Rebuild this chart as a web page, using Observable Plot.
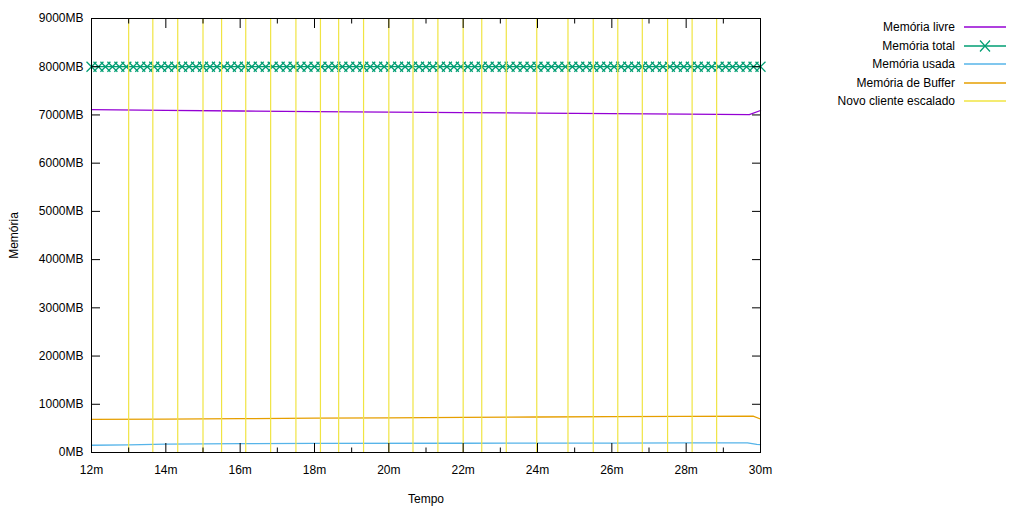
<!DOCTYPE html>
<html><head><meta charset="utf-8">
<script src="https://cdn.jsdelivr.net/npm/d3@7"></script>
<script src="https://cdn.jsdelivr.net/npm/@observablehq/plot@0.6"></script>
<style>
body{margin:0;background:#fff;}
#wrap{position:relative;width:1024px;height:512px;font-family:"Liberation Sans",Arial,sans-serif;font-size:12px;color:#000;}
.row{position:absolute;left:600px;width:1024px;height:18px;}
.row span{position:absolute;right:calc(1024px - 955px + 600px);top:0;line-height:18px;white-space:nowrap;}
.row svg{position:absolute;left:364px;top:0;}
</style></head><body><div id="wrap"></div>
<script>
// Data
const seriesNames = ["Memória livre","Memória total","Memória usada","Memória de Buffer","Novo cliente escalado"];
const seriesColors = ["#9400d3","#009e73","#56b4e9","#e69f00","#f0e442"];

const tLivre = [12, 14, 16, 18, 20, 22, 24, 26, 28, 29.7, 30];
const livre  = [7110, 7095, 7082, 7068, 7058, 7048, 7038, 7028, 7015, 7005, 7092];

const tUsada = [12, 13, 14, 16, 18, 22, 26, 28, 29.65, 29.9, 30];
const usada  = [150, 158, 172, 184, 189, 192, 195, 199, 200, 168, 162];

const tBuffer = [12, 14, 16, 18, 20, 22, 24, 26, 28, 29.8, 30];
const buffer  = [685, 693, 702, 711, 719, 728, 736, 743, 751, 756, 695];

const totalValue = 8000;
const totalSamples = 97;

const escalado = [13.0, 13.65, 14.32, 15.0, 15.5, 16.15, 16.82, 17.5, 18.16, 18.65, 19.32, 20.0, 20.65, 21.32, 22.0, 22.5, 23.16, 23.98, 24.82, 25.5, 26.16, 26.82, 27.5, 28.16, 28.82];

const yTicks = [0,1000,2000,3000,4000,5000,6000,7000,8000,9000];
const xMajor = [12,14,16,18,20,22,24,26,28,30];
const xMinor = [13,15,17,19,21,23,25,27,29];

const livreData = tLivre.map((t,i)=>({t, v: livre[i]}));
const usadaData = tUsada.map((t,i)=>({t, v: usada[i]}));
const bufferData = tBuffer.map((t,i)=>({t, v: buffer[i]}));
const totalData = d3.range(totalSamples).map(i=>({t: 12 + i*18/(totalSamples-1), v: totalValue}));

const plot = Plot.plot({
  width:1024, height:512,
  marginLeft:91, marginRight:264, marginTop:18, marginBottom:60,
  style:{fontFamily:"Liberation Sans, Arial, sans-serif", fontSize:"12px", color:"#000", background:"#fff", overflow:"visible"},
  x:{domain:[12,30]},
  y:{domain:[0,9000]},
  marks:[
    Plot.lineY(livreData, {x:"t", y:"v", stroke:seriesColors[0], strokeWidth:1.3}),
    Plot.lineY(totalData, {x:"t", y:"v", stroke:seriesColors[1], strokeWidth:1.3}),
    Plot.dot(totalData, {x:"t", y:"v", stroke:seriesColors[1], symbol:"times", r:4.6, strokeWidth:1.25}),
    Plot.lineY(usadaData, {x:"t", y:"v", stroke:seriesColors[2], strokeWidth:1.3}),
    Plot.lineY(bufferData, {x:"t", y:"v", stroke:seriesColors[3], strokeWidth:1.3}),
    Plot.ruleX(escalado, {stroke:seriesColors[4], strokeWidth:1.2}),
    Plot.axisY(yTicks, {anchor:"left", tickSize:0, tickPadding:8, tickFormat:d=>d+"MB", label:"Memória", labelAnchor:"center", labelArrow:"none", labelOffset:82}),
    Plot.axisY(yTicks, {anchor:"left", tickSize:-9, tickFormat:()=>"", label:null}),
    Plot.axisY(yTicks, {anchor:"right", tickSize:-9, tickFormat:()=>"", label:null}),
    Plot.axisX(xMajor, {anchor:"bottom", tickSize:0, tickPadding:13, tickFormat:d=>d+"m", label:"Tempo", labelAnchor:"center", labelArrow:"none", labelOffset:50}),
    Plot.axisX(xMajor, {anchor:"bottom", tickSize:-9, tickFormat:()=>"", label:null}),
    Plot.axisX(xMinor, {anchor:"bottom", tickSize:-4.5, tickFormat:()=>"", label:null}),
    Plot.axisX(xMajor, {anchor:"top", tickSize:-9, tickFormat:()=>"", label:null}),
    Plot.axisX(xMinor, {anchor:"top", tickSize:-4.5, tickFormat:()=>"", label:null}),
    Plot.frame({stroke:"#000", strokeWidth:1})
  ]
});
const wrap = document.getElementById("wrap");
wrap.appendChild(plot);

// Legend
const rowTops = [18, 36.5, 55, 73.5, 92];
seriesNames.forEach((name,i)=>{
  const row = document.createElement("div");
  row.className = "row";
  row.style.top = rowTops[i] + "px";
  const sp = document.createElement("span");
  sp.textContent = name;
  row.appendChild(sp);
  const ns = "http://www.w3.org/2000/svg";
  const svg = document.createElementNS(ns,"svg");
  svg.setAttribute("width","44"); svg.setAttribute("height","18");
  const ln = document.createElementNS(ns,"line");
  ln.setAttribute("x1","0"); ln.setAttribute("x2","42"); ln.setAttribute("y1","9"); ln.setAttribute("y2","9");
  ln.setAttribute("stroke", seriesColors[i]); ln.setAttribute("stroke-width","1.3");
  svg.appendChild(ln);
  if (i===1){
    const p = document.createElementNS(ns,"path");
    p.setAttribute("d","M16,3.5L26,14.5M16,14.5L26,3.5");
    p.setAttribute("stroke", seriesColors[i]); p.setAttribute("stroke-width","1.2");
    svg.appendChild(p);
  }
  row.appendChild(svg);
  wrap.appendChild(row);
});
</script></body></html>
